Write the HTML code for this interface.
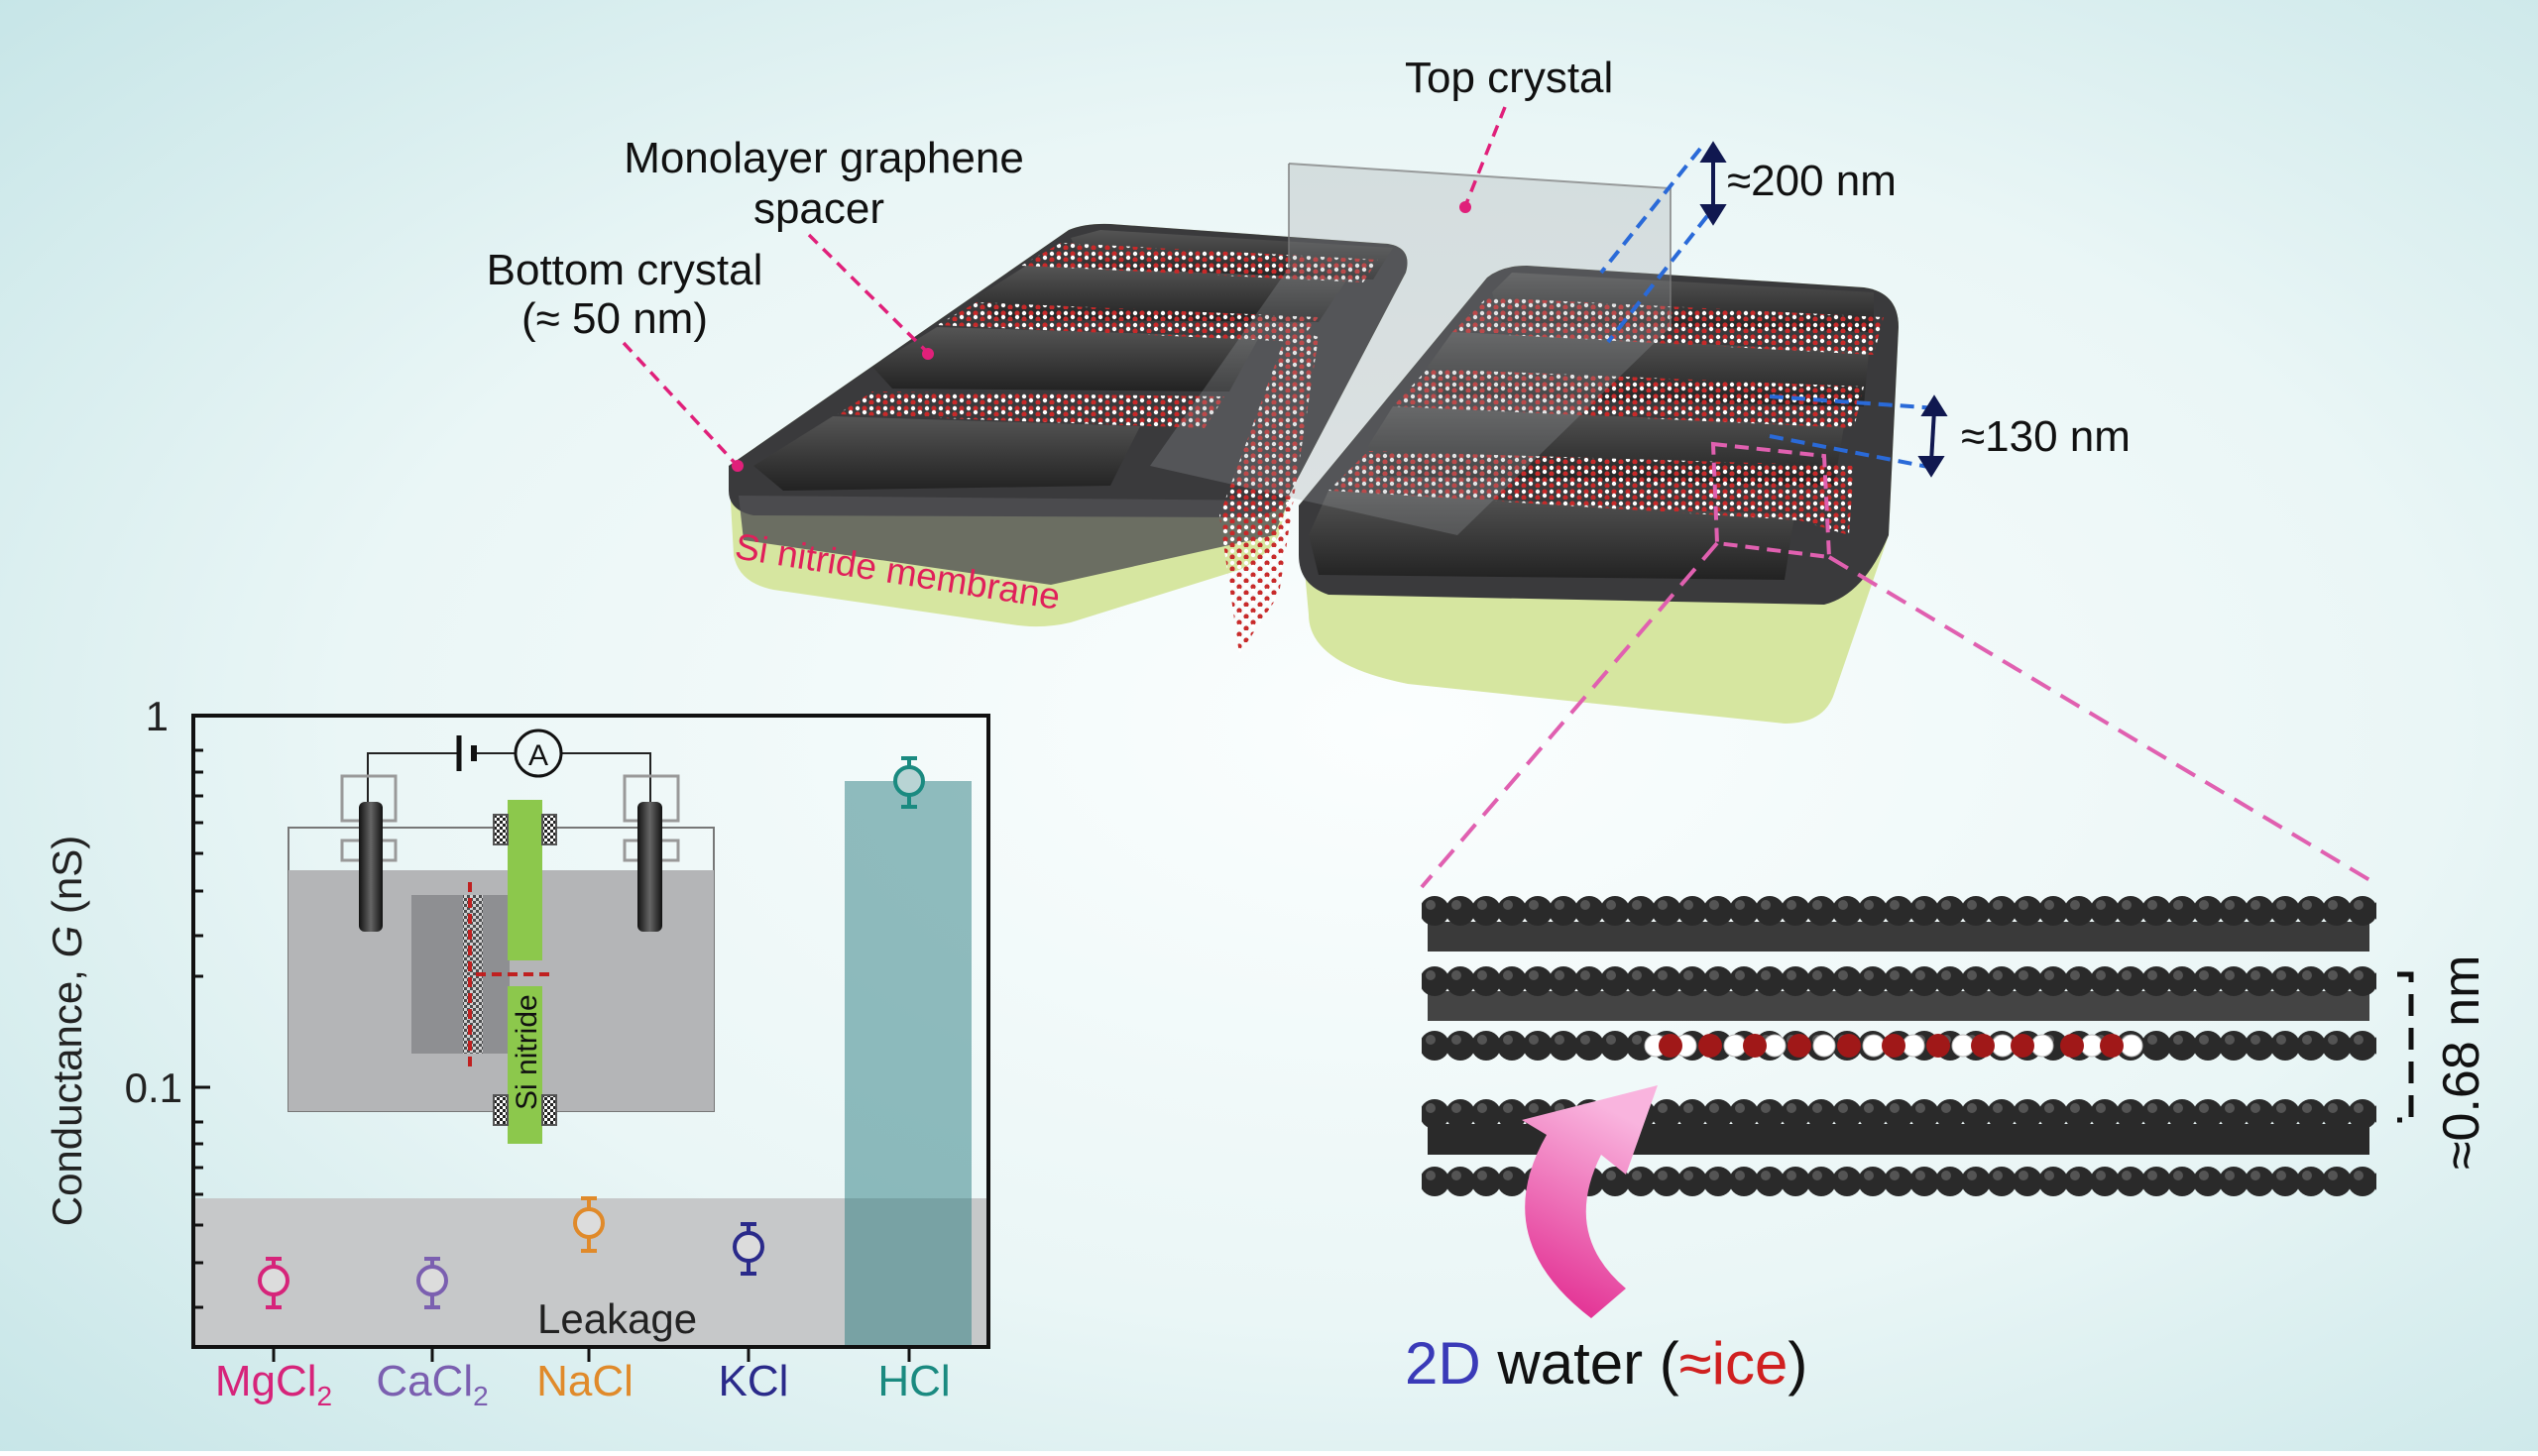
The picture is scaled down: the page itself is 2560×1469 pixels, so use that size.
<!DOCTYPE html>
<html><head><meta charset="utf-8"><style>
html,body{margin:0;padding:0;}
body{width:2560px;height:1464px;overflow:hidden;font-family:"Liberation Sans",sans-serif;}
</style></head><body>
<svg width="2560" height="1464" viewBox="0 0 2560 1464" xmlns="http://www.w3.org/2000/svg" font-family="Liberation Sans, sans-serif">
<defs>
<radialGradient id="bg" cx="0.55" cy="0.5" r="0.75">
<stop offset="0" stop-color="#fbfefe"/><stop offset="0.55" stop-color="#eaf6f6"/><stop offset="1" stop-color="#c6e5e7"/>
</radialGradient>
<pattern id="water" width="14" height="12" patternUnits="userSpaceOnUse">
<circle cx="4" cy="4" r="2.6" fill="#c82a2a"/><circle cx="4" cy="8" r="2.2" fill="#fff"/>
<circle cx="11" cy="10" r="2.6" fill="#c82a2a"/><circle cx="11" cy="4" r="2.2" fill="#fff"/>
</pattern>
<pattern id="balls" width="26" height="44" patternUnits="userSpaceOnUse">
<circle cx="13" cy="22" r="15" fill="#2a2a2a"/><circle cx="9" cy="16" r="5" fill="#777" opacity="0.55"/>
</pattern>
<pattern id="check" width="6" height="6" patternUnits="userSpaceOnUse">
<rect width="6" height="6" fill="#fff"/><rect width="3" height="3" fill="#222"/><rect x="3" y="3" width="3" height="3" fill="#222"/>
</pattern>
<linearGradient id="bar" x1="0" y1="0" x2="0" y2="1"><stop offset="0" stop-color="#555"/><stop offset="1" stop-color="#222"/></linearGradient>
<linearGradient id="elec" x1="0" y1="0" x2="1" y2="0"><stop offset="0" stop-color="#111"/><stop offset="0.5" stop-color="#666"/><stop offset="1" stop-color="#111"/></linearGradient>
<linearGradient id="pinkarrow" x1="0" y1="1" x2="0.3" y2="0"><stop offset="0" stop-color="#e0208a"/><stop offset="1" stop-color="#f9b4de"/></linearGradient>
</defs>
<rect width="2560" height="1464" fill="url(#bg)"/>

<!-- ===== Top device ===== -->
<path d="M735,470 L1078,232 Q1095,225 1120,226 L1400,246 Q1425,250 1418,275 L1300,500 L1290,540 Q1280,560 1250,575 L1080,628 Q1050,635 1020,630 L780,595 Q745,588 740,560 Z" fill="#d6e6a0"/>
<path d="M735,470 L1078,232 Q1095,225 1120,226 L1400,246 Q1425,250 1418,275 L1300,500 Q1290,520 1260,522 L760,520 Q735,515 735,495 Z" fill="#3a3a3c"/>
<path d="M745,500 L1300,505 L1285,540 L1060,590 L750,545 Z" fill="#505052" opacity="0.8"/>
<g fill="url(#bar)">
<path d="M760,470 L840,420 L1150,430 L1120,490 L790,495 Z"/>
<path d="M880,370 L945,330 L1270,340 L1240,395 L900,392 Z"/>
<path d="M985,300 L1035,268 L1360,280 L1330,325 L1005,322 Z"/>
<path d="M1080,240 L1110,232 L1405,250 L1385,282 L1095,270 Z"/>
</g>
<g fill="url(#water)">
<path d="M845,418 L880,395 L1235,400 L1215,432 Z"/>
<path d="M945,328 L985,305 L1330,320 L1310,345 Z"/>
<path d="M1030,268 L1070,245 L1390,262 L1375,285 Z"/>
</g>
<path d="M1310,510 L1500,280 Q1515,268 1540,268 L1880,290 Q1915,295 1915,330 L1905,540 L1850,700 Q1840,730 1800,730 L1420,690 Q1320,670 1320,620 Z" fill="#d6e6a0"/>
<path d="M1310,510 L1500,280 Q1515,268 1540,268 L1880,290 Q1915,295 1915,330 L1905,540 Q1880,600 1840,610 L1340,600 Q1310,590 1310,560 Z" fill="#3a3a3c"/>
<g fill="url(#bar)">
<path d="M1320,540 L1340,495 L1810,520 L1800,585 L1330,580 Z"/>
<path d="M1380,450 L1405,410 L1860,430 L1850,490 L1390,480 Z"/>
<path d="M1440,370 L1465,335 L1885,355 L1880,410 L1450,400 Z"/>
<path d="M1505,295 L1525,275 L1890,295 L1890,335 L1515,325 Z"/>
</g>
<g fill="url(#water)">
<path d="M1340,495 L1380,455 L1870,470 L1865,540 L1815,525 Z"/>
<path d="M1405,410 L1440,372 L1880,390 L1870,432 Z"/>
<path d="M1465,335 L1500,300 L1900,320 L1890,358 Z"/>
</g>
<g fill="url(#water)"><path d="M1230,520 L1300,330 L1330,340 L1290,600 L1250,660 Z"/></g>
<path d="M1300,165 L1685,190 L1685,330 L1470,540 L1160,470 L1300,270 Z" fill="#9a9fa2" opacity="0.28"/>
<path d="M1300,165 L1685,190 L1685,330" fill="none" stroke="#777" stroke-width="2" opacity="0.7"/>
<path d="M1300,165 L1300,270" stroke="#777" stroke-width="2" opacity="0.7"/>
<path d="M1728,448 L1840,460 L1845,562 L1732,548 Z" fill="none" stroke="#e060b0" stroke-width="4" stroke-dasharray="14,8"/>
<line x1="1732" y1="548" x2="1434" y2="895" stroke="#e060b0" stroke-width="4" stroke-dasharray="22,12"/>
<line x1="1845" y1="562" x2="2397" y2="892" stroke="#e060b0" stroke-width="4" stroke-dasharray="22,12"/>

<g font-size="44" fill="#111">
<text x="1417" y="93">Top crystal</text>
<text x="831" y="174" text-anchor="middle">Monolayer graphene</text>
<text x="826" y="225" text-anchor="middle">spacer</text>
<text x="630" y="287" text-anchor="middle">Bottom crystal</text>
<text x="620" y="336" text-anchor="middle">(≈ 50 nm)</text>
<text x="1742" y="197">≈200 nm</text>
<text x="1978" y="455">≈130 nm</text>
</g>
<g stroke="#e0207a" stroke-width="3.5" stroke-dasharray="12,8" fill="none">
<line x1="1518" y1="108" x2="1478" y2="208"/>
<line x1="816" y1="237" x2="936" y2="356"/>
<line x1="629" y1="346" x2="743" y2="469"/>
</g>
<g fill="#e0207a"><circle cx="1478" cy="209" r="6"/><circle cx="936" cy="357" r="6"/><circle cx="744" cy="470" r="6"/></g>
<text x="740" y="563" font-size="37" fill="#e0205a" transform="rotate(9 740 563)">Si nitride membrane</text>
<g stroke="#2a6ad8" stroke-width="4" stroke-dasharray="14,8" fill="none">
<line x1="1715" y1="150" x2="1615" y2="275"/>
<line x1="1722" y1="218" x2="1622" y2="345"/>
<line x1="1785" y1="400" x2="1955" y2="412"/>
<line x1="1785" y1="440" x2="1950" y2="472"/>
</g>
<g stroke="#101850" stroke-width="4" fill="#101850">
<line x1="1728" y1="158" x2="1728" y2="212"/>
<path d="M1718,162 L1728,146 L1738,162 Z"/><path d="M1718,208 L1728,224 L1738,208 Z"/>
<line x1="1951" y1="414" x2="1948" y2="466"/>
<path d="M1941,418 L1951,402 L1961,418 Z"/><path d="M1938,462 L1948,478 L1958,462 Z"/>
</g>

<!-- ===== Graphene layers ===== -->
<path d="M1440,930 L2390,930 L2390,960 L1440,960 Z" fill="#3a3a3a"/>
<path d="M1440,1000 L2390,1000 L2390,1030 L1440,1030 Z" fill="#444"/>
<path d="M1440,1134 L2390,1134 L2390,1165 L1440,1165 Z" fill="#2a2a2a"/>
<g transform="translate(1434,897)"><rect width="963" height="44" fill="url(#balls)"/></g>
<g transform="translate(1434,968)"><rect width="963" height="44" fill="url(#balls)"/></g>
<g transform="translate(1434,1033)"><rect width="963" height="44" fill="url(#balls)"/></g>
<g transform="translate(1434,1102)"><rect width="963" height="44" fill="url(#balls)"/></g>
<g transform="translate(1434,1170)"><rect width="963" height="44" fill="url(#balls)"/></g>
<g fill="#fff" stroke="#bbb" stroke-width="1">
<circle cx="1670" cy="1055" r="11"/><circle cx="1700" cy="1055" r="11"/><circle cx="1750" cy="1055" r="11"/><circle cx="1790" cy="1055" r="11"/><circle cx="1840" cy="1055" r="11"/><circle cx="1890" cy="1055" r="11"/><circle cx="1930" cy="1055" r="11"/><circle cx="1980" cy="1055" r="11"/><circle cx="2020" cy="1055" r="11"/><circle cx="2060" cy="1055" r="11"/><circle cx="2110" cy="1055" r="11"/><circle cx="2150" cy="1055" r="11"/>
</g>
<g fill="#a01818">
<circle cx="1685" cy="1055" r="12"/><circle cx="1725" cy="1055" r="12"/><circle cx="1770" cy="1055" r="12"/><circle cx="1815" cy="1055" r="12"/><circle cx="1865" cy="1055" r="12"/><circle cx="1910" cy="1055" r="12"/><circle cx="1955" cy="1055" r="12"/><circle cx="2000" cy="1055" r="12"/><circle cx="2040" cy="1055" r="12"/><circle cx="2090" cy="1055" r="12"/><circle cx="2130" cy="1055" r="12"/>
</g>
<path d="M2418,983 L2432,983 L2432,1130 L2418,1130" fill="none" stroke="#111" stroke-width="5" stroke-dasharray="22,12"/>
<text x="0" y="0" font-size="52" fill="#111" transform="translate(2500,1180) rotate(-90)">≈0.68 nm</text>
<path d="M1605,1330 Q1500,1250 1560,1145 L1535,1130 L1672,1095 L1640,1185 L1615,1165 Q1575,1245 1640,1300 Z" fill="url(#pinkarrow)"/>
<text x="1417" y="1396" font-size="60"><tspan fill="#3a3ab8">2D</tspan><tspan fill="#111"> water (</tspan><tspan fill="#d02020">≈ice</tspan><tspan fill="#111">)</tspan></text>

<!-- ===== Chart ===== -->
<rect x="195" y="1209" width="802" height="150" fill="#c6c8c9"/>
<rect x="852" y="788" width="128" height="571" fill="#2a7b7f" opacity="0.5"/>
<rect x="291" y="835" width="429" height="286" fill="none" stroke="#777" stroke-width="2"/>
<rect x="291" y="878" width="429" height="243" fill="#b4b5b7"/>
<rect x="415" y="903" width="99" height="160" fill="#8e8f92"/>
<path d="M371,809 L371,760 L463,760 M481,760 L519,760 M567,760 L656,760 L656,809" fill="none" stroke="#222" stroke-width="2"/>
<line x1="463" y1="742" x2="463" y2="778" stroke="#111" stroke-width="5"/>
<line x1="478" y1="752" x2="478" y2="768" stroke="#111" stroke-width="6"/>
<circle cx="543" cy="760" r="23" fill="none" stroke="#111" stroke-width="3"/>
<text x="543" y="772" font-size="30" text-anchor="middle" fill="#111">A</text>
<g fill="none" stroke="#999" stroke-width="3">
<rect x="345" y="783" width="54" height="45"/><rect x="345" y="848" width="54" height="20"/>
<rect x="630" y="783" width="54" height="45"/><rect x="630" y="848" width="54" height="20"/>
</g>
<rect x="362" y="809" width="24" height="131" rx="6" fill="url(#elec)"/>
<rect x="643" y="809" width="25" height="131" rx="6" fill="url(#elec)"/>
<rect x="512" y="807" width="35" height="162" fill="#8cc84c"/>
<rect x="512" y="995" width="35" height="159" fill="#8cc84c"/>
<g fill="url(#check)" stroke="#555" stroke-width="2">
<rect x="498" y="822" width="14" height="30"/><rect x="547" y="822" width="14" height="30"/>
<rect x="498" y="1105" width="14" height="30"/><rect x="547" y="1105" width="14" height="30"/>
</g>
<rect x="467" y="903" width="20" height="160" fill="url(#check)" opacity="0.6"/>
<line x1="474" y1="890" x2="474" y2="1080" stroke="#c02020" stroke-width="4" stroke-dasharray="10,6"/>
<line x1="480" y1="983" x2="560" y2="983" stroke="#c02020" stroke-width="4" stroke-dasharray="10,6"/>
<text x="0" y="0" font-size="30" fill="#111" transform="translate(541,1120) rotate(-90)">Si nitride</text>
<rect x="195" y="722" width="802" height="637" fill="none" stroke="#111" stroke-width="4"/>
<g stroke="#111" stroke-width="3">
<line x1="195" y1="722" x2="212" y2="722"/><line x1="195" y1="1097" x2="212" y2="1097"/>
<line x1="195" y1="757" x2="205" y2="757"/><line x1="195" y1="779" x2="205" y2="779"/><line x1="195" y1="803" x2="205" y2="803"/><line x1="195" y1="830" x2="205" y2="830"/><line x1="195" y1="861" x2="205" y2="861"/><line x1="195" y1="899" x2="205" y2="899"/><line x1="195" y1="944" x2="205" y2="944"/><line x1="195" y1="985" x2="205" y2="985"/>
<line x1="195" y1="1132" x2="205" y2="1132"/><line x1="195" y1="1154" x2="205" y2="1154"/><line x1="195" y1="1178" x2="205" y2="1178"/><line x1="195" y1="1205" x2="205" y2="1205"/><line x1="195" y1="1236" x2="205" y2="1236"/><line x1="195" y1="1274" x2="205" y2="1274"/><line x1="195" y1="1319" x2="205" y2="1319"/>
<line x1="276" y1="1359" x2="276" y2="1374"/><line x1="436" y1="1359" x2="436" y2="1374"/><line x1="594" y1="1359" x2="594" y2="1374"/><line x1="755" y1="1359" x2="755" y2="1374"/><line x1="917" y1="1359" x2="917" y2="1374"/>
</g>
<g font-size="42" fill="#222">
<text x="170" y="737" text-anchor="end">1</text>
<text x="184" y="1112" text-anchor="end">0.1</text>
<text x="542" y="1345" font-size="42">Leakage</text>
</g>
<text x="0" y="0" font-size="42" fill="#222" text-anchor="middle" transform="translate(82,1040) rotate(-90)">Conductance, <tspan font-style="italic">G</tspan> (nS)</text>
<g fill="none" stroke-width="4">
<g stroke="#d6247a"><line x1="276" y1="1270" x2="276" y2="1319"/><line x1="268" y1="1270" x2="284" y2="1270"/><line x1="268" y1="1319" x2="284" y2="1319"/><circle cx="276" cy="1292" r="14" fill="#dcdcdc"/></g>
<g stroke="#7b5fb0"><line x1="436" y1="1270" x2="436" y2="1319"/><line x1="428" y1="1270" x2="444" y2="1270"/><line x1="428" y1="1319" x2="444" y2="1319"/><circle cx="436" cy="1292" r="14" fill="#dcdcdc"/></g>
<g stroke="#e08a2a"><line x1="594" y1="1209" x2="594" y2="1262"/><line x1="586" y1="1209" x2="602" y2="1209"/><line x1="586" y1="1262" x2="602" y2="1262"/><circle cx="594" cy="1234" r="14" fill="#dcdcdc"/></g>
<g stroke="#2a2a8a"><line x1="755" y1="1235" x2="755" y2="1285"/><line x1="747" y1="1235" x2="763" y2="1235"/><line x1="747" y1="1285" x2="763" y2="1285"/><circle cx="755" cy="1258" r="14" fill="#dcdcdc"/></g>
<g stroke="#1a8a80"><line x1="917" y1="765" x2="917" y2="814"/><line x1="909" y1="765" x2="925" y2="765"/><line x1="909" y1="814" x2="925" y2="814"/><circle cx="917" cy="788" r="14" fill="#b8d4d4"/></g>
</g>
<g font-size="44">
<text x="276" y="1408" text-anchor="middle" fill="#d6247a">MgCl<tspan font-size="28" dy="10">2</tspan></text>
<text x="436" y="1408" text-anchor="middle" fill="#7b5fb0">CaCl<tspan font-size="28" dy="10">2</tspan></text>
<text x="590" y="1408" text-anchor="middle" fill="#e08a2a">NaCl</text>
<text x="760" y="1408" text-anchor="middle" fill="#2a2a8a">KCl</text>
<text x="922" y="1408" text-anchor="middle" fill="#1a8a80">HCl</text>
</g>
</svg>
</body></html>
